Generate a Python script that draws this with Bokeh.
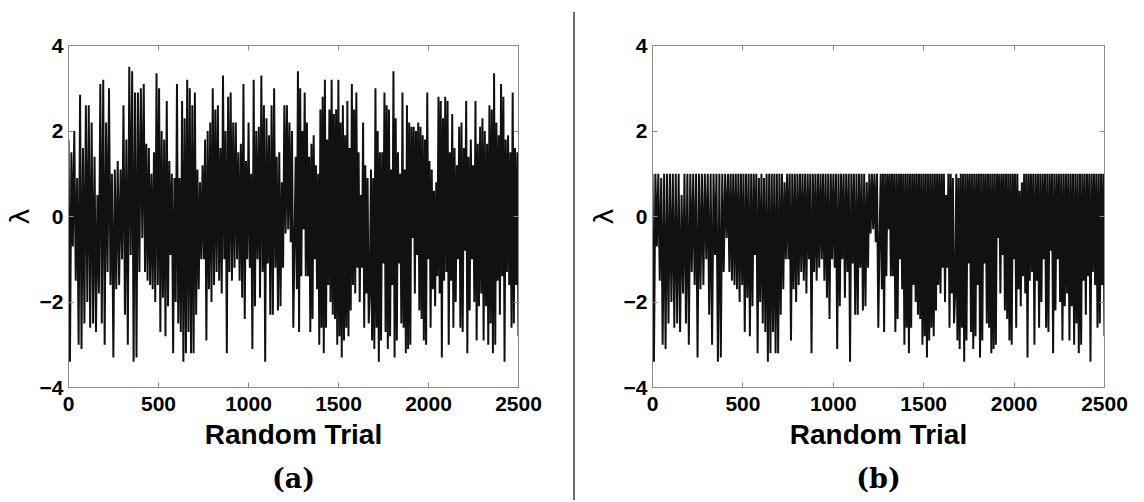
import numpy as np
from bokeh.plotting import figure
from bokeh.models import Range1d, LinearAxis, FixedTicker, Title, Div, CustomJSTickFormatter
from bokeh.layouts import row
from bokeh.embed import file_html
from bokeh.resources import INLINE

# Values of lambda, segment by segment (alternating peaks / troughs)
seg_bounds = [0, 418, 837, 1256, 1674, 2093, 2500]

lam_seg1 = [1.8, -3.4, 1.5, -0.7, 2.0, -1.5, 0.9, -3.0, 2.85, -3.1, 1.6, -2.5, 2.6, -2.0, 2.6, -2.6,
            2.2, -2.5, 1.4, -2.7, 0.5, -1.8, 3.1, -2.5, 3.2, -3.0, 2.2, -1.3, 3.0, -1.6, 1.0, -3.3,
            1.1, -1.7, 1.3, -1.6, 1.1, -1.0, 2.6, -2.3, 1.8, -3.0, 3.5, -0.9, 3.4, -3.4, 2.9, -3.3,
            2.9, -1.3, 3.0, -0.5]
lam_seg2 = [3.1, -1.3, 1.7, -1.5, 1.6, -1.6, 1.0, -1.7, 1.5, -2.0, 3.35, -1.6, 3.0, -2.7, 2.0, -1.9,
            1.8, -2.8, 2.7, -2.1, 1.3, -0.9, 1.0, -3.2, 0.9, -2.0, 3.1, -2.5, 0.9, -2.7, 2.7, -3.4,
            2.3, -3.2, 3.2, -2.7, 3.0, -3.2, 2.6, -3.2, 2.9, -2.3, 1.1, -1.7, 0.8, -1.0, 1.2, -1.0,
            1.8, -2.9, 2.0, -1.7, 2.2, -2.0, 3.0, -1.6, 2.5, -1.3, 2.6]
lam_seg3 = [-1.5, 1.6, -1.8, 3.3, -1.0, 2.0, -3.2, 2.8, -1.3, 2.9, -1.5, 2.2, -1.2, 2.2, -1.0, 1.5,
            -1.5, 1.7, -1.9, 3.1, -2.4, 1.3, -1.0, 2.2, -1.2, 1.0, -3.1, 3.2, -2.1, 2.0, -1.0, 2.1,
            -1.9, 3.3, -1.3, 2.6, -3.4, 2.3, -1.1, 1.9, -2.3, 2.6, -2.3, 3.0, -1.2, 1.4, -2.2, 1.5,
            -2.1, 0.8, -1.2, 2.6, -0.4, 2.6, -0.3, 2.2, -0.6, 2.0, -2.6]
lam_seg4 = [-0.5, 1.4, -1.7, 3.4, -2.7, 3.0, -1.4, 2.0, -0.3, 2.9, -1.4, 2.2, -1.4, 1.4, -2.7, 1.7,
            -2.4, 1.9, -1.0, 1.2, -1.7, 1.0, -3.0, 2.5, -2.6, 2.8, -3.2, 3.2, -2.6, 1.8, -1.6, 2.5,
            -2.0, 3.2, -2.3, 2.4, -2.4, 2.5, -3.0, 3.2, -2.8, 2.2, -3.3, 2.6, -2.9, 1.9, -2.6, 2.7,
            -2.8, 1.6, -2.2, 3.1, -1.6, 2.5, -1.8, 2.9, -1.2, 1.5, -2.0, 0.5, -1.2, 2.2, -2.6, 1.2,
            -1.8, 0.9, -2.5]
lam_seg5 = [-1.8, 1.1, -2.9, 0.9, -3.1, 3.0, -2.6, 2.0, -3.4, 1.5, -2.9, 1.5, -1.1, 2.9, -2.7, 2.6,
            -3.1, 2.5, -2.8, 1.1, -1.6, 3.4, -3.3, 2.3, -2.9, 1.5, -1.1, 1.0, -2.5, 2.9, -2.6, 1.1,
            -3.2, 2.6, -3.1, 2.2, -3.0, 2.1, -0.5, 2.1, -1.8, 2.0, -0.9, 2.2, -2.2, 2.1, -2.4, 1.9,
            -2.9, 1.8, -3.0, 2.9, -1.0, 1.3, -2.6, 1.1, -1.7, 0.6, -2.1, 0.8, -1.4, 2.8, -1.8, 2.7,
            -3.3, 2.3, -1.5]
lam_seg6 = [2.8, -1.3, 2.7, -3.0, 1.5, -1.5, 2.4, -2.6, 1.6, -2.0, 1.2, -1.0, 2.1, -2.6, 2.2, -2.7,
            1.6, -0.8, 2.7, -3.2, 1.4, -2.2, 1.8, -1.0, 1.2, -2.0, 2.7, -2.9, 1.7, -2.1, 2.1, -1.8,
            2.3, -2.9, 2.0, -2.1, 1.7, -3.0, 2.6, -2.5, 2.5, -3.2, 3.35, -3.0, 2.2, -1.5, 1.9, -2.3,
            3.1, -1.4, 2.8, -3.4, 1.8, -1.3, 1.9, -1.6, 1.5, -2.6, 2.9, -2.5, 1.6, -1.6, 1.5, -2.8]

clip_level = 1.0  # panel (b): lambda clipped at 1

x_ticks = [0, 500, 1000, 1500, 2000, 2500]
y_ticks = [-4, -2, 0, 2, 4]
x_label = "Random Trial"
y_label = "λ"
panel_titles = ["(a)", "(b)"]

segments = [lam_seg1, lam_seg2, lam_seg3, lam_seg4, lam_seg5, lam_seg6]
trials, lam = [], []
for i, seg in enumerate(segments):
    last = i == len(segments) - 1
    xs = np.linspace(seg_bounds[i], seg_bounds[i + 1], len(seg), endpoint=last)
    trials.extend(xs.tolist())
    lam.extend(seg)
trials = np.array(trials)
lam_a = np.array(lam)
lam_b = np.minimum(lam_a, clip_level)

FRAME_GRAY = "#8a8a8a"


def make_panel(yvals, title, width, left, right):
    p = figure(width=width, height=502, x_range=Range1d(0, 2500), y_range=Range1d(-4, 4),
               output_backend="svg", toolbar_location=None,
               min_border_left=left, min_border_right=right,
               min_border_top=45, min_border_bottom=112)
    p.xgrid.visible = False
    p.ygrid.visible = False
    p.outline_line_color = FRAME_GRAY
    p.outline_line_width = 1
    p.background_fill_color = "white"
    p.border_fill_color = "white"

    p.line(trials, yvals, line_color="#111111", line_width=2.0)

    for ax in (p.xaxis[0], p.yaxis[0]):
        ax.axis_line_color = FRAME_GRAY
        ax.major_tick_line_color = FRAME_GRAY
        ax.major_tick_in = 5
        ax.major_tick_out = 0
        ax.minor_tick_line_color = None
        ax.major_label_text_font = "Liberation Sans"
        ax.major_label_text_font_style = "bold"
        ax.major_label_text_font_size = "21px"
        ax.major_label_text_color = "black"
    p.xaxis[0].ticker = FixedTicker(ticks=x_ticks)
    p.yaxis[0].ticker = FixedTicker(ticks=y_ticks)
    p.xaxis[0].major_label_standoff = 9
    p.yaxis[0].major_label_standoff = 5

    p.xaxis[0].axis_label = x_label
    p.xaxis[0].axis_label_text_font = "Liberation Sans"
    p.xaxis[0].axis_label_text_font_style = "bold"
    p.xaxis[0].axis_label_text_font_size = "28px"
    p.xaxis[0].axis_label_text_color = "black"
    p.xaxis[0].axis_label_standoff = 5

    p.yaxis[0].axis_label = y_label
    p.yaxis[0].axis_label_text_font = "DejaVu Sans"
    p.yaxis[0].axis_label_text_font_style = "normal"
    p.yaxis[0].axis_label_text_font_size = "27px"
    p.yaxis[0].axis_label_text_color = "black"
    p.yaxis[0].axis_label_standoff = 2

    blank = CustomJSTickFormatter(code="return '';")
    top = LinearAxis(ticker=FixedTicker(ticks=x_ticks), formatter=blank,
                     axis_line_color=FRAME_GRAY, major_tick_line_color=FRAME_GRAY,
                     major_tick_in=5, major_tick_out=0, minor_tick_line_color=None,
                     major_label_text_font_size="1px")
    rgt = LinearAxis(ticker=FixedTicker(ticks=y_ticks), formatter=blank,
                     axis_line_color=FRAME_GRAY, major_tick_line_color=FRAME_GRAY,
                     major_tick_in=5, major_tick_out=0, minor_tick_line_color=None,
                     major_label_text_font_size="1px")
    p.add_layout(top, "above")
    p.add_layout(rgt, "right")

    t = Title(text=title, align="center", text_font="DejaVu Serif", text_font_style="bold",
              text_font_size="27px", text_color="black", standoff=17)
    p.add_layout(t, "below")
    return p


pa = make_panel(lam_a, panel_titles[0], 573, 64, 55)
pb = make_panel(lam_b, panel_titles[1], 569, 77, 40)
divider = Div(text="", width=2, height=488, margin=(12, 0, 0, 0),
              styles={"background-color": "#6b6b6b"})

layout = row(pa, divider, pb, spacing=0)
open("out.html", "w").write(file_html(layout, INLINE))
